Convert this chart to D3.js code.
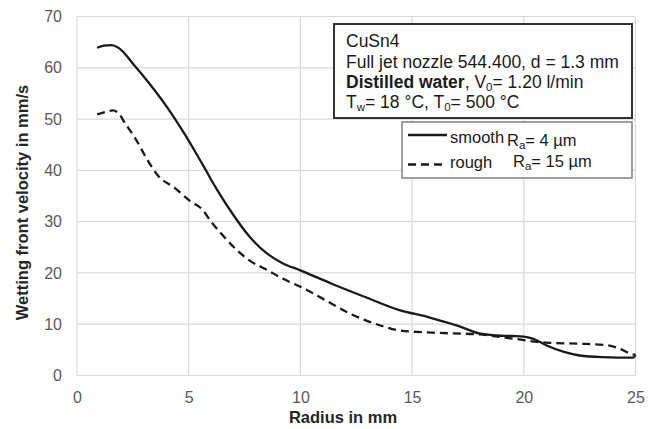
<!DOCTYPE html>
<html>
<head>
<meta charset="utf-8">
<script src="https://cdn.jsdelivr.net/npm/d3@7"></script>
<style>
  html, body { margin: 0; padding: 0; background: #fff; }
  svg { display: block; font-family: "Liberation Sans", Arial, sans-serif; }
</style>
</head>
<body>
<svg id="chart" width="657" height="429"></svg>
<script>
// ---- data ----
const smoothX = [0.9, 1.2, 1.55, 1.85, 2.6, 3.3, 4.1, 4.8, 5.6, 6.3, 7.0, 7.7, 8.5, 9.2, 10, 11.4, 12.9, 14.4, 15.8, 16.5, 17.3, 18.0, 18.8, 19.5, 20.0, 20.4, 21.0, 21.8, 22.5, 23.5, 24.9, 25];
const smoothY = [63.9, 64.3, 64.4, 63.9, 60.3, 56.6, 51.9, 47.2, 41.3, 36.0, 31.3, 27.2, 23.8, 21.9, 20.5, 17.9, 15.3, 12.8, 11.3, 10.4, 9.3, 8.2, 7.8, 7.7, 7.6, 7.2, 5.9, 4.6, 3.9, 3.6, 3.5, 4.0];
const roughX = [0.9, 1.3, 1.6, 1.85, 2.15, 2.6, 3.2, 3.6, 4.4, 5.1, 5.6, 6.0, 6.45, 7.0, 7.7, 8.5, 9.2, 10, 10.7, 11.4, 12.2, 12.9, 13.7, 14.4, 15.2, 16.2, 18.0, 19.5, 21.0, 22.5, 23.7, 24.3, 24.75, 25];
const roughY = [50.9, 51.4, 51.7, 51.2, 49.2, 46.3, 41.7, 39.1, 36.5, 33.9, 32.4, 30.0, 27.7, 25.1, 22.5, 20.6, 18.9, 17.3, 15.7, 14.0, 12.1, 10.8, 9.6, 8.8, 8.5, 8.3, 8.0, 7.2, 6.4, 6.2, 5.9, 5.2, 4.3, 4.0];
const xTicks = [0, 5, 10, 15, 20, 25];
const yTicks = [0, 10, 20, 30, 40, 50, 60, 70];
const xTitle = "Radius in mm";
const yTitle = "Wetting front velocity in mm/s";
const seriesNames = ["smooth", "rough"];
const seriesRa = ["4 µm", "15 µm"];

// ---- layout ----
const svg = d3.select("#chart");
const x = d3.scaleLinear().domain([0, 25]).range([77, 635.5]);
const y = d3.scaleLinear().domain([0, 70]).range([375.5, 16.5]);

// grid
const grid = svg.append("g");
grid.selectAll("line.h").data(yTicks).join("line")
  .attr("x1", x(0)).attr("x2", x(25))
  .attr("y1", d => y(d)).attr("y2", d => y(d))
  .attr("stroke", "#d9d9d9").attr("stroke-width", 1.2);
grid.selectAll("line.v").data(xTicks).join("line")
  .attr("y1", y(0)).attr("y2", y(70))
  .attr("x1", d => x(d)).attr("x2", d => x(d))
  .attr("stroke", "#d9d9d9").attr("stroke-width", 1.2);

// axes via d3 axis
const xAxis = svg.append("g").attr("transform", `translate(0,${y(0)})`)
  .call(d3.axisBottom(x).tickValues(xTicks).tickSize(0).tickPadding(16));
xAxis.select(".domain").remove();
xAxis.selectAll("text").attr("font-size", 16).attr("fill", "#595959")
  .attr("font-family", "Liberation Sans, Arial, sans-serif");

const yAxis = svg.append("g").attr("transform", `translate(${x(0)},0)`)
  .call(d3.axisLeft(y).tickValues(yTicks).tickSize(0).tickPadding(15));
yAxis.select(".domain").remove();
yAxis.selectAll("text").attr("font-size", 16).attr("fill", "#595959")
  .attr("font-family", "Liberation Sans, Arial, sans-serif");

// titles
svg.append("text").attr("x", 343).attr("y", 423)
  .attr("text-anchor", "middle").attr("font-size", 16.5).attr("font-weight", "bold")
  .attr("fill", "#262626").text(xTitle);
svg.append("text").attr("transform", "translate(27.5,202.5) rotate(-90)")
  .attr("text-anchor", "middle").attr("font-size", 16.5).attr("font-weight", "bold")
  .attr("fill", "#262626").text(yTitle);

// lines
const line = d3.line().x(d => x(d[0])).y(d => y(d[1])).curve(d3.curveMonotoneX);
const smoothData = smoothX.map((v, i) => [v, smoothY[i]]);
const roughData = roughX.map((v, i) => [v, roughY[i]]);
svg.append("path").datum(roughData).attr("d", line)
  .attr("fill", "none").attr("stroke", "#1a1a1a").attr("stroke-width", 2.3)
  .attr("stroke-dasharray", "8,5");
svg.append("path").datum(smoothData).attr("d", line)
  .attr("fill", "none").attr("stroke", "#1a1a1a").attr("stroke-width", 2.3);

// annotation box
svg.append("rect").attr("x", 334).attr("y", 24).attr("width", 298).attr("height", 94)
  .attr("fill", "#fff").attr("stroke", "#333").attr("stroke-width", 2);
const ann = svg.append("g").attr("font-size", 17.5).attr("fill", "#1a1a1a");
ann.append("text").attr("x", 346).attr("y", 47).text("CuSn4");
ann.append("text").attr("x", 346).attr("y", 67.5).text("Full jet nozzle 544.400, d = 1.3 mm");
const l3 = ann.append("text").attr("x", 346).attr("y", 88);
l3.append("tspan").attr("font-weight", "bold").text("Distilled water");
l3.append("tspan").text(", V");
l3.append("tspan").attr("font-size", 11.5).attr("dy", 3).text("0");
l3.append("tspan").attr("dy", -3).text("= 1.20 l/min");
const l4 = ann.append("text").attr("x", 346).attr("y", 108);
l4.append("tspan").text("T");
l4.append("tspan").attr("font-size", 11.5).attr("dy", 3).text("w");
l4.append("tspan").attr("dy", -3).text("= 18 °C, T");
l4.append("tspan").attr("font-size", 11.5).attr("dy", 3).text("0");
l4.append("tspan").attr("dy", -3).text("= 500 °C");

// legend box
svg.append("rect").attr("x", 402).attr("y", 122).attr("width", 230).attr("height", 56)
  .attr("fill", "#fff").attr("stroke", "#7f7f7f").attr("stroke-width", 1.5);
const leg = svg.append("g").attr("font-size", 16.5).attr("fill", "#1a1a1a");
const legY = [135, 164.5];
const legTextY = [142.5, 167.5];
const raX = [507, 513];
const raY = [146, 166.5];
seriesNames.forEach((name, i) => {
  leg.append("line").attr("x1", 408).attr("x2", 447).attr("y1", legY[i]).attr("y2", legY[i])
    .attr("stroke", "#1a1a1a").attr("stroke-width", 2.3)
    .attr("stroke-dasharray", i === 1 ? "8,5" : null);
  leg.append("text").attr("x", 450).attr("y", legTextY[i]).text(name);
  const t = leg.append("text").attr("x", raX[i]).attr("y", raY[i]);
  t.append("tspan").text("R");
  t.append("tspan").attr("font-size", 11.5).attr("dy", 3).text("a");
  t.append("tspan").attr("dy", -3).text("= " + seriesRa[i]);
});
</script>
</body>
</html>
